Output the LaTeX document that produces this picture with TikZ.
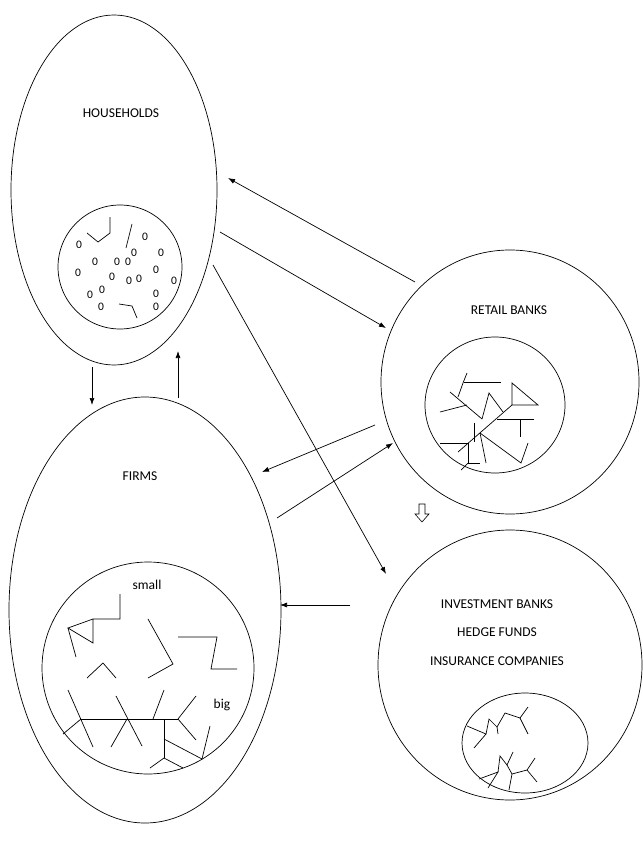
\documentclass[tikz,border=0pt]{standalone}
\usepackage{fontspec}
\setmainfont{Carlito}
\usetikzlibrary{shapes.geometric,arrows.meta}
\tikzset{
  shell/.style={draw, ellipse, inner sep=0pt, line width=0.7pt},
  lbl/.style={font=\fontsize{13.5}{15}\selectfont, inner sep=0pt},
  tree/.style={line width=0.7pt},
  flow/.style={line width=0.7pt, -{Latex[length=7pt,width=5pt]}},
  dot/.style={font=\fontsize{11.5}{12}\selectfont, inner sep=0pt}
}
\begin{document}
\begin{tikzpicture}[x=1pt,y=-1pt]
\useasboundingbox (0,0) rectangle (642,845);
% outer shapes
\node[shell, minimum width=206pt, minimum height=350pt] (hh) at (114,190) {};
\node[shell, minimum width=272pt, minimum height=426pt] (firms) at (145,610) {};
\node[shell, minimum width=258pt, minimum height=264pt] (rb) at (510,382) {};
\node[shell, minimum width=264pt, minimum height=270pt] (ib) at (510,665) {};
% inner circles
\node[shell, minimum width=124pt, minimum height=124pt] (hhin) at (120,267) {};
\node[shell, minimum width=140pt, minimum height=136pt] (rbin) at (495,405) {};
\node[shell, minimum width=212pt, minimum height=212pt] (fin) at (148,668) {};
\node[shell, minimum width=126pt, minimum height=100pt] (ibin) at (525,743) {};
% labels
\node[lbl] (t1) at (121,113) {HOUSEHOLDS};
\node[lbl] (t2) at (509,310) {RETAIL BANKS};
\node[lbl] (t3) at (140,476) {FIRMS};
\node[lbl] (t4) at (497,604) {INVESTMENT BANKS};
\node[lbl] (t5) at (497,632) {HEDGE FUNDS};
\node[lbl] (t6) at (497,661) {INSURANCE COMPANIES};
\node[lbl] (t7) at (147,585) {small};
\node[lbl] (t8) at (222,705) {big};
% household dots
\foreach \i/\p in {1/{(79,245)},2/{(95,262)},3/{(117,262)},4/{(128,262)},5/{(134,253)},6/{(145,237)},7/{(161,253)},8/{(156,270)},9/{(78,273)},10/{(112,277)},11/{(129,281)},12/{(139,279)},13/{(102,290)},14/{(90,295)},15/{(101,307)},16/{(156,294)},17/{(156,307)},18/{(174,281)}}
  \node[dot] (d\i) at \p {0};
\draw[tree] (87,233) -- (98,242) -- (110,233) -- (110,217);
\draw[tree] (132,224) -- (126,248);
\draw[tree] (119,304) -- (132,306) -- (137,318);
% retail bank tree
\draw[tree] (467,373) -- (463,383) -- (458,397);
\draw[tree] (464,382) -- (501,382);
\draw[tree] (450,392) -- (482,419);
\draw[tree] (440,412) -- (467,405);
\draw[tree] (482,419) -- (489,393) -- (503,412);
\draw[tree] (512,383) -- (512,405) -- (538,405) -- cycle;
\draw[tree] (512,405) -- (458,452);
\draw[tree] (497,419) -- (534,419);
\draw[tree] (520,419) -- (520,437);
\draw[tree] (474,423) -- (474,442);
\draw[tree] (440,443) -- (468,443);
\draw[tree] (468,443) -- (468,463) -- (480,463);
\draw[tree] (480,433) -- (521,463) -- (528,443);
\draw[tree] (480,433) -- (486,463);
\draw[tree] (468,463) -- (461,470);
% firms small networks
\draw[tree] (120,594) -- (120,619) -- (93,619) -- (68,628) -- (93,643) -- (93,619);
\draw[tree] (68,628) -- (76,657);
\draw[tree] (148,619) -- (173,664) -- (148,678);
\draw[tree] (178,637) -- (217,637) -- (211,669) -- (237,669);
\draw[tree] (87,678) -- (103,663) -- (116,678);
% firms big network
\draw[tree] (81,719) -- (178,719);
\draw[tree] (68,690) -- (93,747);
\draw[tree] (81,719) -- (63,734);
\draw[tree] (116,696) -- (142,746);
\draw[tree] (127,719) -- (111,747);
\draw[tree] (164,690) -- (153,719);
\draw[tree] (196,696) -- (178,719) -- (196,740);
\draw[tree] (164,719) -- (164,758);
\draw[tree] (164,739) -- (202,759) -- (210,726);
\draw[tree] (150,768) -- (164,758) -- (183,768);
% investment networks
\draw[tree] (467,726) -- (486,734) -- (474,748);
\draw[tree] (486,734) -- (489,719) -- (497,727) -- (505,713) -- (520,718) -- (528,707);
\draw[tree] (497,727) -- (498,734);
\draw[tree] (520,718) -- (528,734);
\draw[tree] (479,779) -- (498,772) -- (488,788);
\draw[tree] (498,772) -- (500,756) -- (507,765) -- (513,752);
\draw[tree] (507,765) -- (512,774) -- (527,770) -- (535,758);
\draw[tree] (512,774) -- (509,790);
\draw[tree] (527,770) -- (537,782);
% arrow endpoints
\coordinate (a1s) at (415,282); \coordinate (a1e) at (228,178);
\coordinate (a2s) at (220,232); \coordinate (a2e) at (386,328);
\coordinate (a3s) at (213,265); \coordinate (a3e) at (386,574);
\coordinate (a4s) at (375,425); \coordinate (a4e) at (262,472);
\coordinate (a5s) at (277,518); \coordinate (a5e) at (393,443);
\coordinate (a6s) at (350,605); \coordinate (a6e) at (280,605);
\coordinate (a7s) at (92,367); \coordinate (a7e) at (92,405);
\coordinate (a8s) at (178,398); \coordinate (a8e) at (178,351);
\draw[flow] (a1s) -- (a1e);
\draw[flow] (a2s) -- (a2e);
\draw[flow] (a3s) -- (a3e);
\draw[flow] (a4s) -- (a4e);
\draw[flow] (a5s) -- (a5e);
\draw[flow] (a6s) -- (a6e);
\draw[flow] (a7s) -- (a7e);
\draw[flow] (a8s) -- (a8e);
% hollow block arrow
\draw[line width=0.6pt] (419,504) -- (425,504) -- (425,514) -- (429,514) -- (422,522) -- (415,514) -- (419,514) -- cycle;
\end{tikzpicture}
\end{document}
